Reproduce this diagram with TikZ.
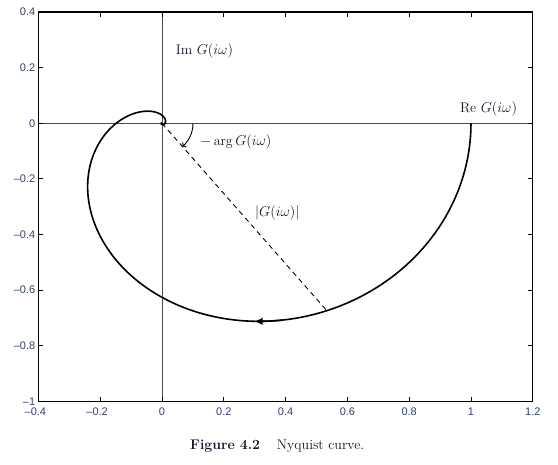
\documentclass[tikz,border=0pt]{standalone}
\usepackage{fontspec}
\newfontfamily\ticksf{Liberation Sans}
\usetikzlibrary{arrows.meta}
\definecolor{ticklab}{rgb}{0.2,0.25,0.42}
\definecolor{labcol}{rgb}{0.08,0.08,0.16}
\definecolor{axgray}{gray}{0.3}
\begin{document}
\begin{tikzpicture}[x=309pt,y=278pt,
  ticklabel/.style={font=\ticksf\fontsize{11}{12}\selectfont, text=ticklab, inner sep=0pt},
  lab/.style={font=\fontsize{14}{16}\selectfont, text=labcol, inner sep=0pt, anchor=base west},
  curve/.style={line width=1.6pt, black},
  zeroax/.style={line width=0.9pt, axgray},
  frame/.style={line width=1.3pt, black},
  tickmark/.style={line width=0.9pt, black},
  dashline/.style={dash pattern=on 5pt off 4pt, line width=0.9pt}]
\useasboundingbox (-162pt,-341.7pt) rectangle (396pt,123.3pt);
\coordinate (O) at (0,0);
\coordinate (SW) at (-0.4,-1);
\coordinate (NE) at (1.2,0.4);
% zero axes
\draw[zeroax] (-0.4,0) -- (1.2,0);
\draw[zeroax] (0,-1) -- (0,0.4);
% ticks
\foreach \v in {-0.2,0,0.2,0.4,0.6,0.8,1} {
  \draw[tickmark] (\v,-1) -- ++(0,4.5pt);
  \draw[tickmark] (\v,0.4) -- ++(0,-4.5pt);
}
\foreach \v in {-0.8,-0.6,-0.4,-0.2,0,0.2} {
  \draw[tickmark] (-0.4,\v) -- ++(4.5pt,0);
  \draw[tickmark] (1.2,\v) -- ++(-4.5pt,0);
}
\draw[frame] (SW) rectangle (NE);
% tick labels
\foreach \v/\t [count=\i] in {-0.4/\llap{–}0.4,-0.2/\llap{–}0.2,0/0,0.2/0.2,0.4/0.4,0.6/0.6,0.8/0.8,1/1,1.2/1.2} {
  \node[ticklabel, anchor=north] (xl\i) at ([yshift=-6pt]\v,-1) {\t};
}
\foreach \v/\t [count=\i] in {-1/–1,-0.8/–0.8,-0.6/–0.6,-0.4/–0.4,-0.2/–0.2,0/0,0.2/0.2,0.4/0.4} {
  \node[ticklabel, anchor=east] (yl\i) at ([xshift=-3pt]-0.4,\v) {\t};
}
% Nyquist curve
\draw[curve] plot[domain=0:87.5, samples=500, variable=\t]
  ({cos(\t)^2*cos(2*\t+18.91*tan(\t))}, {-cos(\t)^2*sin(2*\t+18.91*tan(\t))});
\draw[curve, -{Latex[length=8.5pt,width=7.5pt]}] plot[domain=26:28.5, samples=10, variable=\t]
  ({cos(\t)^2*cos(2*\t+18.91*tan(\t))}, {-cos(\t)^2*sin(2*\t+18.91*tan(\t))});
% magnitude line and angle
\coordinate (P) at ({cos(22)^2*cos(44+18.91*tan(22))}, {-cos(22)^2*sin(44+18.91*tan(22))});
\draw[dashline] (O) -- (P);
\draw[line width=0.9pt, -{To[length=3pt]}] ([xshift=31pt]O) arc[start angle=0, end angle=-48.6, radius=31pt];
% labels
\node[lab] (im) at (0.0443,0.249) {Im $G(i\omega)$};
\node[lab] (re) at (0.964,0.0396) {Re $G(i\omega)$};
\node[lab] (arg) at (0.123,-0.0806) {$-\arg G(i\omega)$};
\node[lab] (mag) at (0.301,-0.335) {$|G(i\omega)|$};
\node[lab] (cap1) at (0.0906,-1.175) {\textbf{Figure 4.2}};
\node[lab] (cap2) at (0.3712,-1.175) {Nyquist curve.};
\end{tikzpicture}
\end{document}
